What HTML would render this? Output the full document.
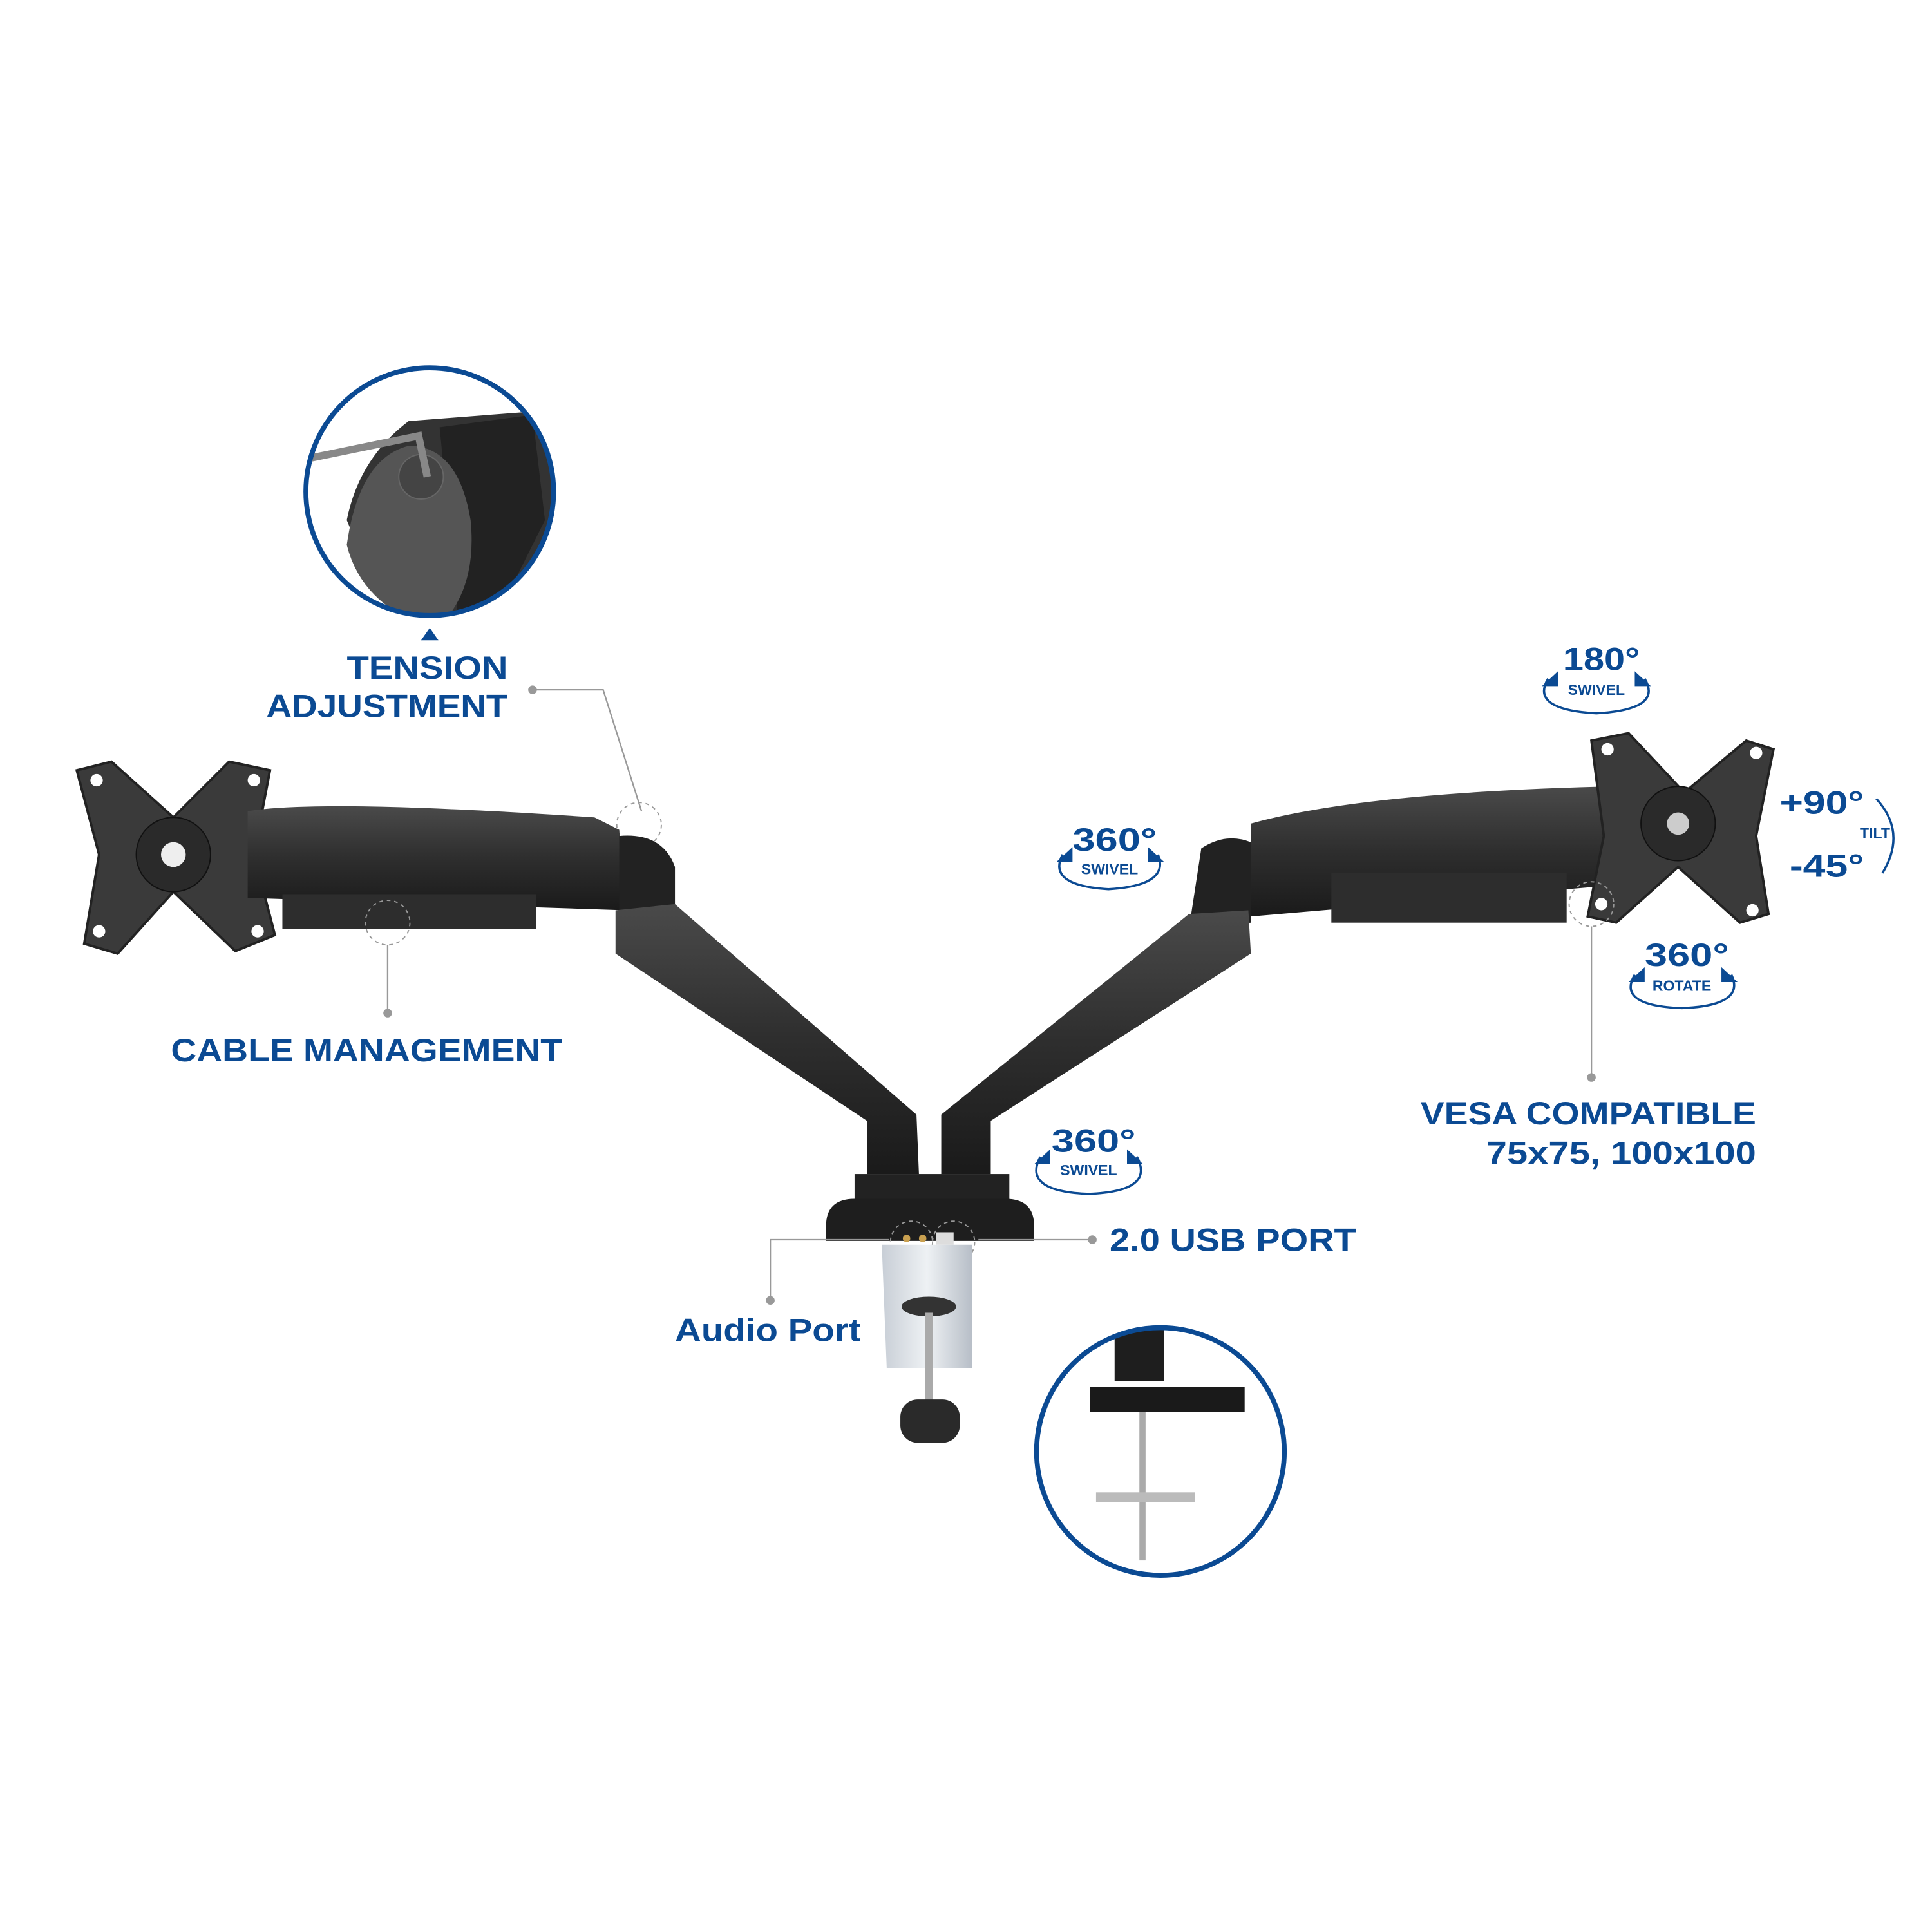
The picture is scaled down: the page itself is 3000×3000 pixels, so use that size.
<!DOCTYPE html>
<html><head><meta charset="utf-8"><style>
html,body{margin:0;padding:0;background:#fff}
svg{display:block}
text{font-family:"Liberation Sans",sans-serif;font-weight:bold;fill:#0b4a93}
</style></head><body>
<svg width="3000" height="3000" viewBox="0 0 1560 1560" xmlns="http://www.w3.org/2000/svg">
<defs>
<linearGradient id="arm" x1="0" y1="0" x2="0" y2="1"><stop offset="0" stop-color="#4a4a4a"/><stop offset="0.5" stop-color="#2e2e2e"/><stop offset="1" stop-color="#1a1a1a"/></linearGradient>
<linearGradient id="silver" x1="0" y1="0" x2="1" y2="0"><stop offset="0" stop-color="#c8ced6"/><stop offset="0.5" stop-color="#eef1f4"/><stop offset="1" stop-color="#b7bec7"/></linearGradient>
<clipPath id="c1"><circle cx="347" cy="397" r="100"/></clipPath>
<clipPath id="c2"><ellipse cx="937" cy="1172" rx="100" ry="100"/></clipPath>
</defs>

<!-- top detail circle -->
<g clip-path="url(#c1)">
<rect x="240" y="290" width="220" height="220" fill="#fff"/>
<path d="M330 340 L460 330 L460 510 L360 510 Q300 470 280 420 Q290 370 330 340Z" fill="#333"/>
<path d="M355 345 L430 335 L440 420 L400 500 L370 500 Z" fill="#222"/>
<path d="M280 440 Q290 370 330 360 Q370 360 380 420 Q385 470 360 500 L330 500 Q290 480 280 440Z" fill="#555"/>
<circle cx="340" cy="385" r="18" fill="#444" stroke="#666"/>
<path d="M250 370 L338 352 L345 385" stroke="#888" stroke-width="6" fill="none"/>
</g>
<circle cx="347" cy="397" r="100" fill="none" stroke="#0b4a93" stroke-width="4"/>
<polygon points="340,517 354,517 347,507" fill="#0b4a93"/>
<text x="410" y="548" font-size="26" text-anchor="end" textLength="130" lengthAdjust="spacingAndGlyphs">TENSION</text>
<text x="410" y="579" font-size="26" text-anchor="end" textLength="195" lengthAdjust="spacingAndGlyphs">ADJUSTMENT</text>
<circle cx="430" cy="557" r="3.5" fill="#999"/>
<polyline points="430,557 487,557 518,655" fill="none" stroke="#999" stroke-width="1.2"/>
<circle cx="516" cy="666" r="18" fill="none" stroke="#999" stroke-dasharray="3,3"/>

<!-- left VESA plate -->
<path d="M62 622 L90 615 L140 660 L185 615 L218 622 L205 690 L222 755 L190 768 L140 720 L95 770 L68 762 L80 690 Z" fill="#3a3a3a" stroke="#222" stroke-width="2"/>
<circle cx="140" cy="690" r="30" fill="#2a2a2a" stroke="#111"/>
<circle cx="140" cy="690" r="10" fill="#eee"/>
<circle cx="78" cy="630" r="5" fill="#fff"/><circle cx="205" cy="630" r="5" fill="#fff"/>
<circle cx="80" cy="752" r="5" fill="#fff"/><circle cx="208" cy="752" r="5" fill="#fff"/>

<!-- left arm -->
<path d="M200 655 Q260 645 480 660 L500 670 L505 735 L200 725 Z" fill="url(#arm)"/>
<rect x="228" y="722" width="205" height="28" fill="#2d2d2d"/>
<path d="M500 675 Q535 672 545 700 L545 745 L500 740 Z" fill="#222"/>
<path d="M497 735 L545 730 L740 900 L742 948 L700 948 L700 905 L497 770 Z" fill="url(#arm)"/>
<circle cx="313" cy="745" r="18" fill="none" stroke="#999" stroke-dasharray="3,3"/>
<line x1="313" y1="763" x2="313" y2="818" stroke="#999" stroke-width="1.2"/>
<circle cx="313" cy="818" r="3.5" fill="#999"/>
<text x="138" y="857" font-size="26" textLength="316" lengthAdjust="spacingAndGlyphs">CABLE MANAGEMENT</text>

<!-- right arm -->
<path d="M1010 665 Q1100 640 1300 635 L1300 715 L1010 740 Z" fill="url(#arm)"/>
<rect x="1075" y="705" width="190" height="40" fill="#2d2d2d"/>
<path d="M970 685 Q990 672 1010 680 L1010 745 L960 750 Z" fill="#222"/>
<path d="M960 738 L1008 735 L1010 770 L800 905 L800 948 L760 948 L760 900 Z" fill="url(#arm)"/>

<!-- right VESA plate -->
<path d="M1285 598 L1315 592 L1360 640 L1410 598 L1432 605 L1418 675 L1428 738 L1405 745 L1355 700 L1305 745 L1282 740 L1295 675 Z" fill="#3a3a3a" stroke="#222" stroke-width="2"/>
<circle cx="1355" cy="665" r="30" fill="#2a2a2a" stroke="#111"/>
<circle cx="1355" cy="665" r="9" fill="#ccc"/>
<circle cx="1298" cy="605" r="5" fill="#fff"/><circle cx="1418" cy="608" r="5" fill="#fff"/>
<circle cx="1293" cy="730" r="5" fill="#fff"/><circle cx="1415" cy="735" r="5" fill="#fff"/>

<!-- base -->
<rect x="690" y="948" width="125" height="22" fill="#222"/>
<path d="M667 990 Q667 968 690 968 L812 968 Q835 968 835 990 L835 1002 L667 1002 Z" fill="#1e1e1e"/>
<circle cx="732" cy="1000" r="3" fill="#c9a050"/><circle cx="745" cy="1000" r="3" fill="#c9a050"/>
<rect x="756" y="995" width="14" height="10" fill="#ddd"/>
<circle cx="736" cy="1003" r="17" fill="none" stroke="#999" stroke-dasharray="3,3"/>
<circle cx="770" cy="1003" r="17" fill="none" stroke="#999" stroke-dasharray="3,3"/>
<!-- clamp -->
<path d="M712 1005 L785 1005 L785 1105 L716 1105 Z" fill="url(#silver)"/>
<ellipse cx="750" cy="1055" rx="22" ry="8" fill="#333"/>
<rect x="747" y="1060" width="6" height="80" fill="#aaa"/>
<rect x="727" y="1130" width="48" height="35" rx="14" fill="#2a2a2a"/>

<!-- port leaders -->
<polyline points="718,1001 622,1001 622,1050" fill="none" stroke="#999" stroke-width="1.2"/>
<circle cx="622" cy="1050" r="3.5" fill="#999"/>
<text x="545" y="1083" font-size="26" textLength="150" lengthAdjust="spacingAndGlyphs">Audio Port</text>
<line x1="790" y1="1001" x2="882" y2="1001" stroke="#999" stroke-width="1.2"/>
<circle cx="882" cy="1001" r="3.5" fill="#999"/>
<text x="896" y="1010" font-size="26" textLength="199" lengthAdjust="spacingAndGlyphs">2.0 USB PORT</text>

<!-- bottom circle -->
<g clip-path="url(#c2)">
<rect x="900" y="1070" width="40" height="45" fill="#1e1e1e"/>
<path d="M880 1120 L1005 1120 L1005 1140 L880 1140 Z" fill="#1a1a1a"/>
<rect x="920" y="1140" width="5" height="120" fill="#aaa"/>
<rect x="885" y="1205" width="80" height="8" fill="#bbb"/>
</g>
<circle cx="937" cy="1172" r="100" fill="none" stroke="#0b4a93" stroke-width="4"/>

<!-- angle badges -->
<g>
<text x="900" y="687" font-size="26" text-anchor="middle" textLength="68" lengthAdjust="spacingAndGlyphs">360°</text>
<text x="896" y="706" font-size="12" text-anchor="middle">SWIVEL</text>
<path d="M858 690 Q845 715 895 718 Q945 715 935 690" fill="none" stroke="#0b4a93" stroke-width="1.8"/>
<polygon points="853,696 866,684 866,696" fill="#0b4a93"/><polygon points="940,696 927,684 927,696" fill="#0b4a93"/>
</g>
<g>
<text x="1293" y="541" font-size="26" text-anchor="middle" textLength="62" lengthAdjust="spacingAndGlyphs">180°</text>
<text x="1289" y="561" font-size="12" text-anchor="middle">SWIVEL</text>
<path d="M1250 548 Q1235 573 1289 576 Q1343 573 1328 548" fill="none" stroke="#0b4a93" stroke-width="1.8"/>
<polygon points="1245,554 1258,542 1258,554" fill="#0b4a93"/><polygon points="1333,554 1320,542 1320,554" fill="#0b4a93"/>
</g>
<g>
<text x="1505" y="657" font-size="26" text-anchor="end" textLength="68" lengthAdjust="spacingAndGlyphs">+90°</text>
<text x="1505" y="708" font-size="26" text-anchor="end" textLength="60" lengthAdjust="spacingAndGlyphs">-45°</text>
<text x="1514" y="677" font-size="12" text-anchor="middle">TILT</text>
<path d="M1515 645 Q1540 672 1520 705" fill="none" stroke="#0b4a93" stroke-width="1.8"/>
</g>
<g>
<text x="1362" y="780" font-size="26" text-anchor="middle" textLength="68" lengthAdjust="spacingAndGlyphs">360°</text>
<text x="1358" y="800" font-size="12" text-anchor="middle">ROTATE</text>
<path d="M1320 787 Q1305 812 1358 814 Q1410 812 1398 787" fill="none" stroke="#0b4a93" stroke-width="1.8"/>
<polygon points="1315,793 1328,781 1328,793" fill="#0b4a93"/><polygon points="1403,793 1390,781 1390,793" fill="#0b4a93"/>
</g>
<g>
<text x="883" y="930" font-size="26" text-anchor="middle" textLength="68" lengthAdjust="spacingAndGlyphs">360°</text>
<text x="879" y="949" font-size="12" text-anchor="middle">SWIVEL</text>
<path d="M840 934 Q825 962 879 964 Q933 962 918 934" fill="none" stroke="#0b4a93" stroke-width="1.8"/>
<polygon points="835,940 848,928 848,940" fill="#0b4a93"/><polygon points="923,940 910,928 910,940" fill="#0b4a93"/>
</g>

<!-- VESA leader -->
<circle cx="1285" cy="730" r="18" fill="none" stroke="#999" stroke-dasharray="3,3"/>
<line x1="1285" y1="748" x2="1285" y2="870" stroke="#999" stroke-width="1.2"/>
<circle cx="1285" cy="870" r="3.5" fill="#999"/>
<text x="1418" y="908" font-size="26" text-anchor="end" textLength="271" lengthAdjust="spacingAndGlyphs">VESA COMPATIBLE</text>
<text x="1418" y="940" font-size="26" text-anchor="end" textLength="218" lengthAdjust="spacingAndGlyphs">75x75, 100x100</text>
</svg>
</body></html>
